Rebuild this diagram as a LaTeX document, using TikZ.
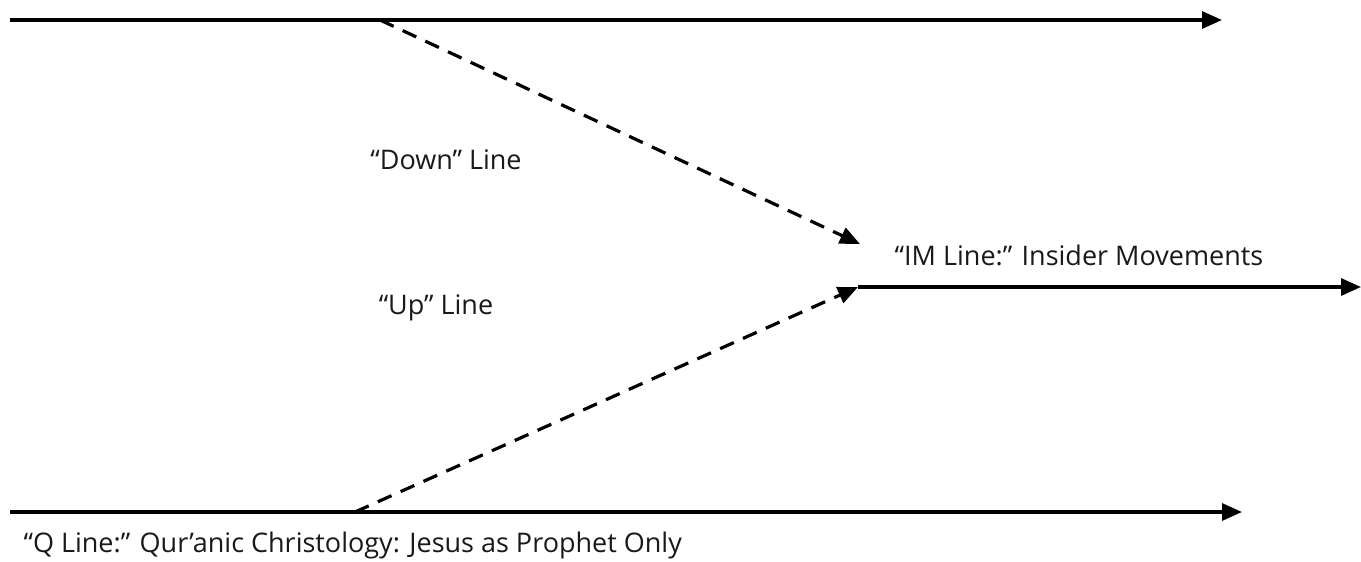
\documentclass[tikz,border=0pt]{standalone}
\usepackage{fontspec}
\setmainfont{Open Sans}
\usetikzlibrary{arrows.meta}

\begin{document}
\begin{tikzpicture}[x=1pt, y=-1pt, line width=3.2pt, line join=round,
    lbl/.style={font=\fontsize{27}{31}\selectfont, text=black!90, inner sep=0pt},
    tip/.style={-{Triangle[length=20pt, width=17pt]}},
    dashline/.style={tip, dash pattern=on 15pt off 10pt}]
    \useasboundingbox (0,0) rectangle (1361,562);
    % main lines
    \coordinate (T0) at (10,20);
    \coordinate (T1) at (1222,20);
    \coordinate (B0) at (10,512);
    \coordinate (B1) at (1242,512);
    \coordinate (M0) at (858,287);
    \coordinate (M1) at (1361,287);
    \coordinate (D0) at (380,20);
    \coordinate (D1) at (860,244);
    \coordinate (U0) at (355,512);
    \coordinate (U1) at (858,287);
    \draw[tip] (T0) -- (T1);
    \draw[tip] (B0) -- (B1);
    \draw[tip] (M0) -- (M1);
    \draw[dashline] (D0) -- (D1);
    \draw[dashline] (U0) -- (U1);
    % labels
    \node[lbl] (down) at (446,160) {“Down” Line};
    \node[lbl] (up) at (436,308) {“Up” Line};
    \node[lbl] (im) at (1079,255) {“IM Line:” Insider Movements};
    \node[lbl, anchor=west] (q) at (22,545) {“Q Line:” Qur’anic Christology: Jesus as Prophet Only};
\end{tikzpicture}
\end{document}
